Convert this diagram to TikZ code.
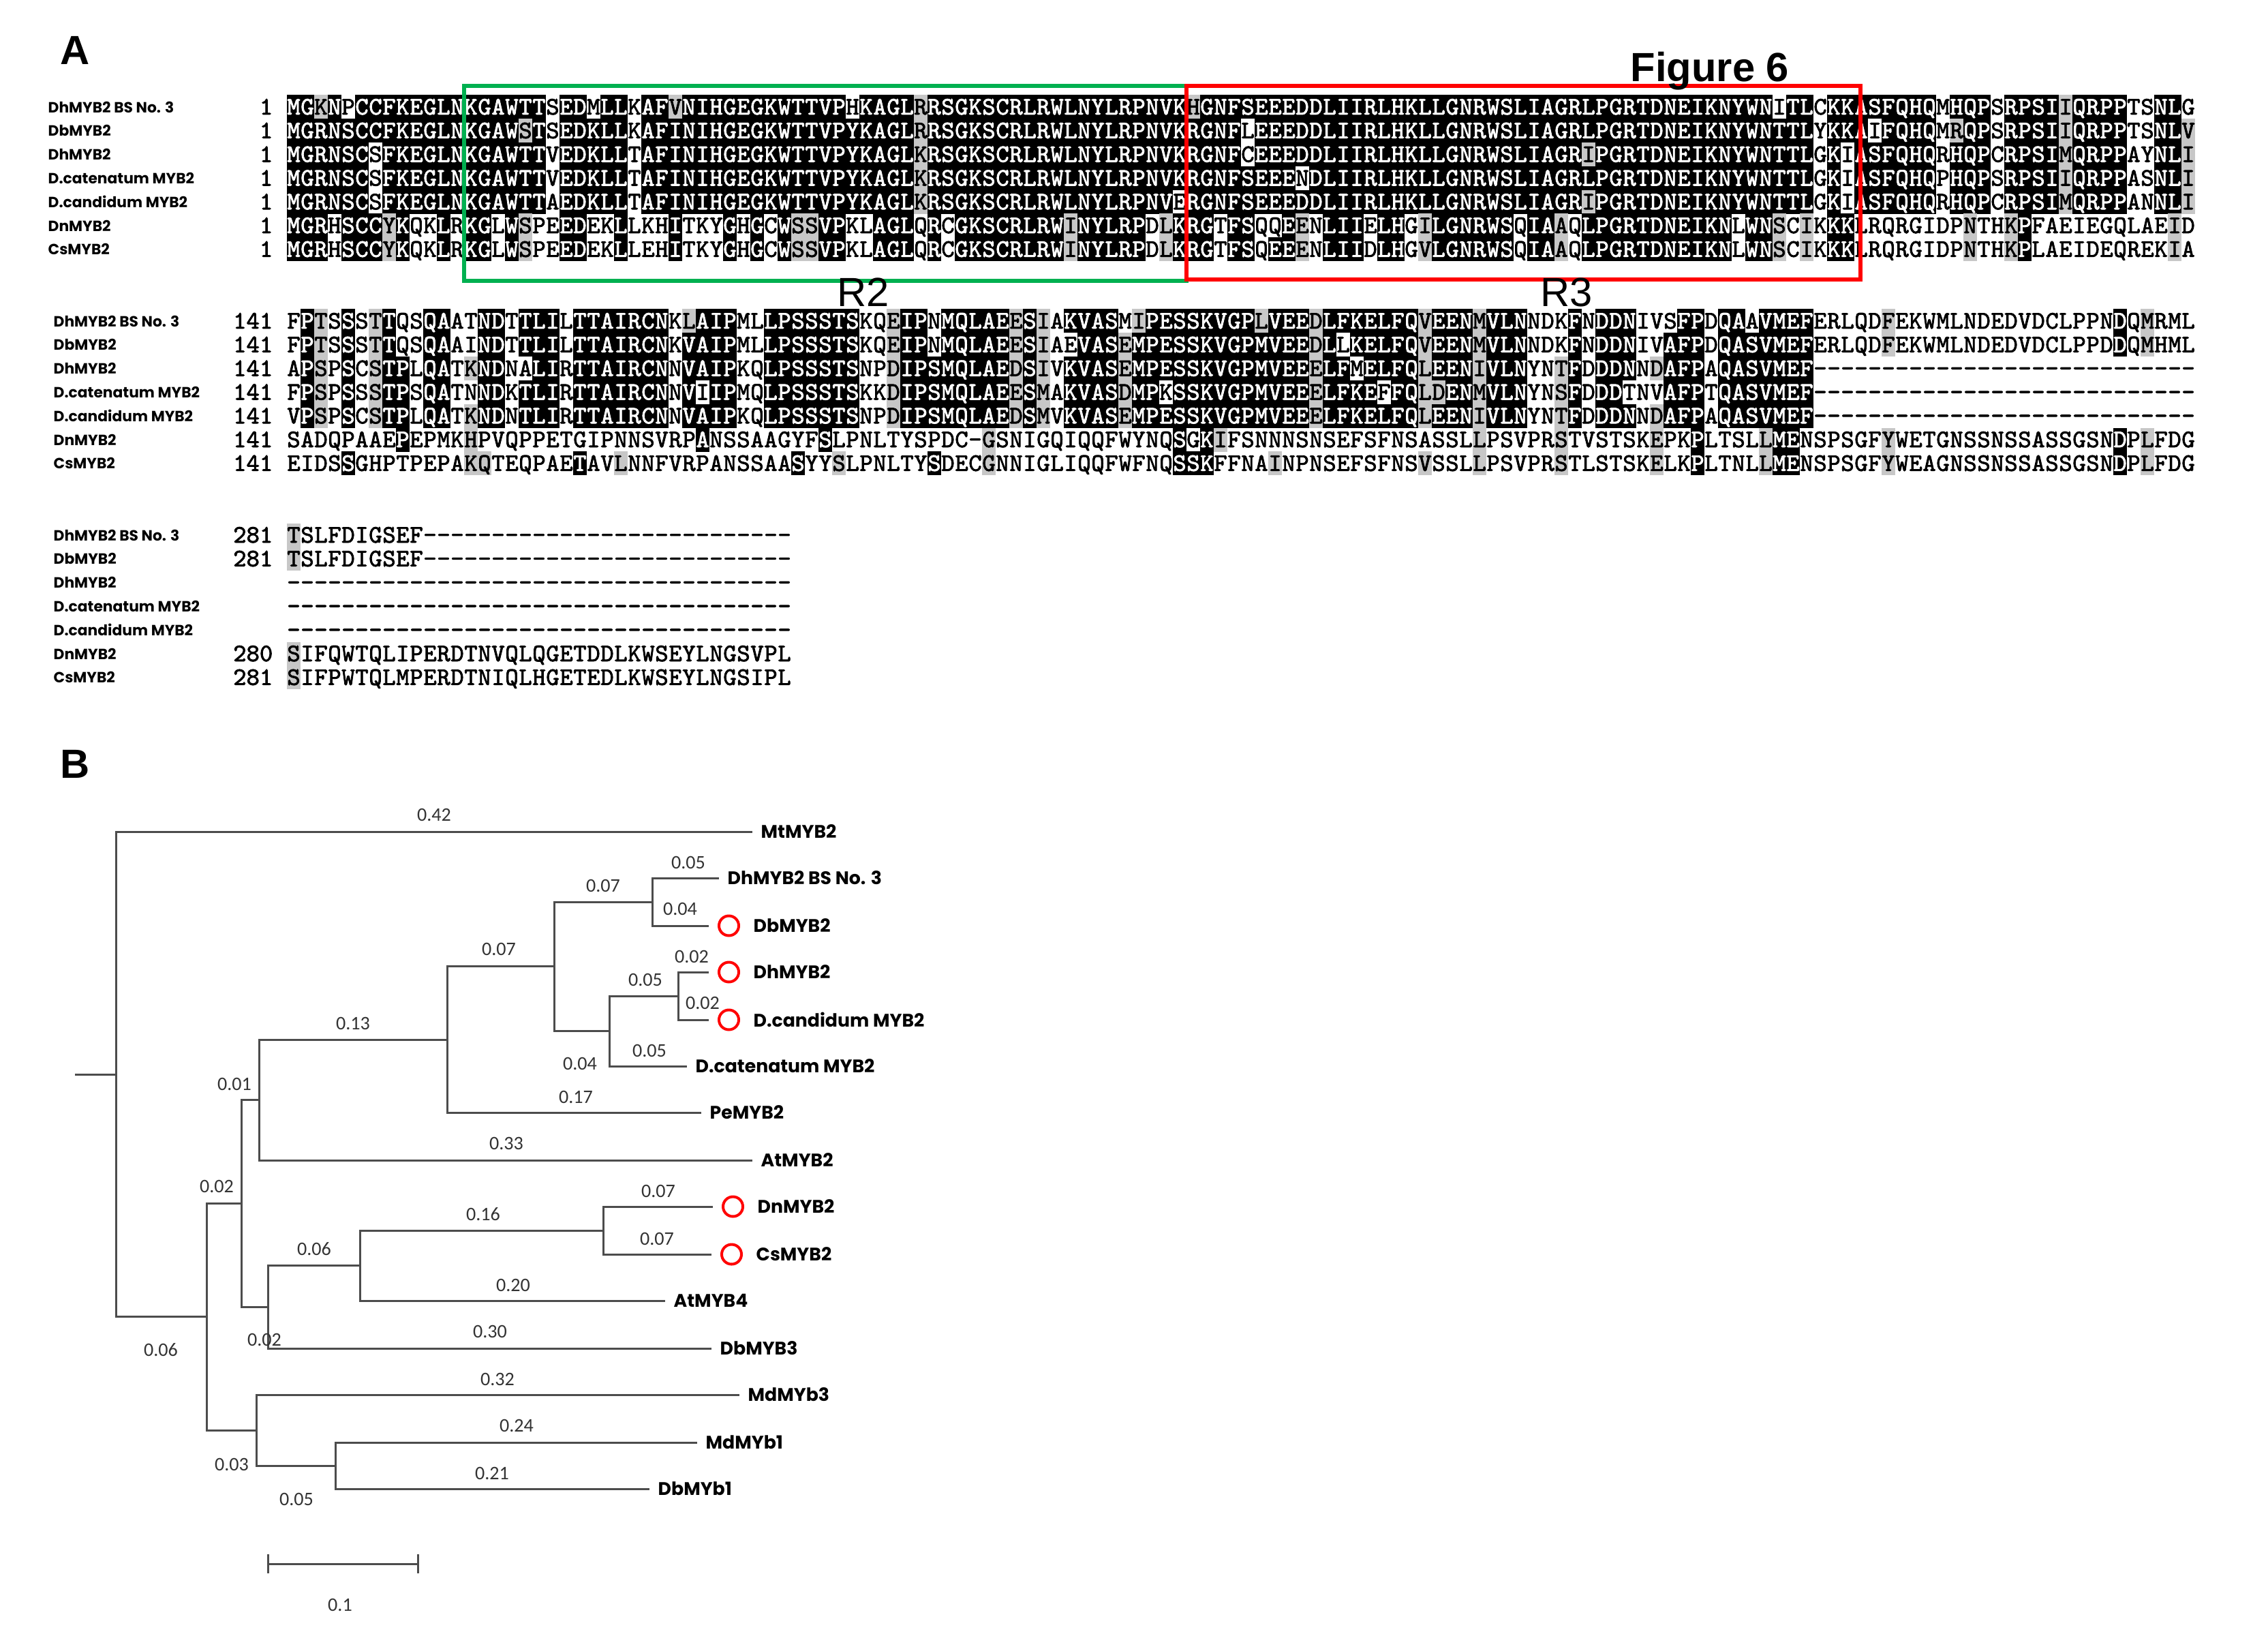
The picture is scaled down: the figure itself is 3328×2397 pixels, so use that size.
\documentclass[tikz,border=0pt]{standalone}
\usepackage{fontspec}
\setmainfont{Liberation Sans}
\newfontfamily\resfont{Latin Modern Mono}[FakeBold=2.2]
\newfontfamily\namefont{Poppins}
\newfontfamily\lenfont{Carlito}
\usetikzlibrary{positioning}

\definecolor{boxgreen}{RGB}{0,176,80}
\definecolor{boxred}{RGB}{255,0,0}

\tikzset{
  resn/.style={font=\resfont\fontsize{10.5}{10.5}\selectfont, inner sep=0pt,
    minimum width=2.03mm, minimum height=3.5mm, text height=2.2mm, text depth=0pt},
  resb/.style={resn, fill=black, text=white},
  resg/.style={resn, fill=black!22},
  resnum/.style={font=\resfont\fontsize{10.5}{10.5}\selectfont, inner sep=0pt,
    anchor=east, text height=2.2mm, text depth=0pt},
  rowname/.style={font=\namefont\bfseries\fontsize{6.2}{7}\selectfont, inner sep=0pt, anchor=west},
  leaf/.style={font=\namefont\bfseries\fontsize{7.6}{9}\selectfont, inner sep=0pt},
  blen/.style={font=\lenfont\fontsize{8}{9}\selectfont, inner sep=0pt, text=black!80},
  ring/.style={circle, draw=boxred, line width=0.4mm, minimum size=2.9mm, inner sep=0pt},
  br/.style={draw=black!70, line width=0.3mm},
  panel/.style={font=\bfseries\fontsize{17}{20}\selectfont, inner sep=0pt},
  rlab/.style={font=\fontsize{17}{20}\selectfont, inner sep=0pt},
  regionbox/.style={line width=0.6mm},
}

% one residue cell: name, x, y, shading style, letter
\newcommand\alnres[5]{\node[#4] (#1) at (#2,#3) {#5};}

% shading of an alignment block (identity black, similarity grey)
\ExplSyntaxOn
\int_new:N \l__aln_max_int
\int_new:N \l__aln_cnt_int
\int_new:N \l__aln_grp_int
\int_new:N \l__aln_len_int
\tl_new:N \l__aln_cons_tl
\tl_new:N \l__aln_style_tl
\int_step_inline:nn {7}
  {
    \str_new:c { l__aln_row_#1_str }
    \tl_new:c { l__aln_c_#1_tl }
  }
\cs_generate_variant:Nn \str_item:Nn { c }
\cs_generate_variant:Nn \str_set:Nn { c }
\prg_generate_conditional_variant:Nnn \str_if_eq:nn { vn , vv , vV } { T , F , TF }

\cs_new:Npn \__aln_group:n #1
  {
    \str_case:nnF {#1}
      {
        {F}{1} {Y}{1} {W}{1}
        {I}{2} {L}{2} {V}{2} {M}{2}
        {R}{3} {K}{3} {H}{3}
        {D}{4} {E}{4}
        {G}{5} {A}{5}
        {S}{6} {T}{6}
        {N}{7} {Q}{7}
      }
      {0}
  }
\cs_generate_variant:Nn \__aln_group:n { v , V }

\cs_new_protected:Npn \__aln_column:nnn #1#2#3
  {
    \int_step_inline:nn {7}
      { \tl_set:cx { l__aln_c_##1_tl } { \str_item:cn { l__aln_row_##1_str } {#3} } }
    \int_zero:N \l__aln_max_int
    \tl_clear:N \l__aln_cons_tl
    \int_step_inline:nn {7}
      {
        \str_if_eq:vnF { l__aln_c_##1_tl } { - }
          {
            \int_zero:N \l__aln_cnt_int
            \int_step_inline:nn {7}
              {
                \str_if_eq:vvT { l__aln_c_##1_tl } { l__aln_c_####1_tl }
                  { \int_incr:N \l__aln_cnt_int }
              }
            \int_compare:nNnT \l__aln_cnt_int > \l__aln_max_int
              {
                \int_set_eq:NN \l__aln_max_int \l__aln_cnt_int
                \tl_set_eq:Nc \l__aln_cons_tl { l__aln_c_##1_tl }
              }
          }
      }
    \int_zero:N \l__aln_grp_int
    \int_compare:nNnF \l__aln_max_int > 3
      {
        \int_step_inline:nn {7}
          {
            \int_zero:N \l__aln_cnt_int
            \int_step_inline:nn {7}
              {
                \int_compare:nNnT { \__aln_group:v { l__aln_c_####1_tl } } = {##1}
                  { \int_incr:N \l__aln_cnt_int }
              }
            \int_compare:nNnT \l__aln_cnt_int > 3
              { \int_set:Nn \l__aln_grp_int {##1} }
          }
      }
    \int_step_inline:nn {7}
      {
        \tl_set:Nn \l__aln_style_tl { resn }
        \str_if_eq:vnF { l__aln_c_##1_tl } { - }
          {
            \int_compare:nNnTF \l__aln_max_int > 3
              {
                \str_if_eq:vVTF { l__aln_c_##1_tl } \l__aln_cons_tl
                  { \tl_set:Nn \l__aln_style_tl { resb } }
                  {
                    \bool_if:nT
                      {
                        \int_compare_p:nNn { \__aln_group:v { l__aln_c_##1_tl } } > 0
                        &&
                        \int_compare_p:nNn { \__aln_group:v { l__aln_c_##1_tl } }
                          = { \__aln_group:V \l__aln_cons_tl }
                      }
                      { \tl_set:Nn \l__aln_style_tl { resg } }
                  }
              }
              {
                \bool_if:nT
                  {
                    \int_compare_p:nNn \l__aln_grp_int > 0
                    &&
                    \int_compare_p:nNn { \__aln_group:v { l__aln_c_##1_tl } } = \l__aln_grp_int
                  }
                  { \tl_set:Nn \l__aln_style_tl { resg } }
              }
          }
        \use:e
          {
            \exp_not:N \alnres
              { b#1r##1c#3 }
              { \int_eval:n { 411 + 20 * #3 } }
              { \fp_eval:n { #2 + 34.8 * ( ##1 - 1 ) } }
              { \l__aln_style_tl }
              { \tl_use:c { l__aln_c_##1_tl } }
          }
      }
  }

\NewDocumentCommand \alnblock { m m m m m m m m m }
  {
    \str_set:cn { l__aln_row_1_str } {#3}
    \str_set:cn { l__aln_row_2_str } {#4}
    \str_set:cn { l__aln_row_3_str } {#5}
    \str_set:cn { l__aln_row_4_str } {#6}
    \str_set:cn { l__aln_row_5_str } {#7}
    \str_set:cn { l__aln_row_6_str } {#8}
    \str_set:cn { l__aln_row_7_str } {#9}
    \int_set:Nn \l__aln_len_int { \str_count:n {#3} }
    \int_step_inline:nn { \l__aln_len_int }
      { \__aln_column:nnn {#1} {#2} {##1} }
  }
\ExplSyntaxOff

\begin{document}
\begin{tikzpicture}[x=0.1mm, y=-0.1mm]
\useasboundingbox (0,0) rectangle (3328,2397);

% panel A: alignment
\node[panel] (pA) at (110,74) {A};

\foreach \nm [count=\r] in {DhMYB2 BS No. 3, DbMYB2, DhMYB2, D.catenatum MYB2, D.candidum MYB2, DnMYB2, CsMYB2} {
  \node[rowname] (n1r\r) at (70,{157+34.8*(\r-1)}) {\nm};
  \node[resnum] (k1r\r) at (401,{157+34.8*(\r-1)}) {1};
  \node[rowname] (n2r\r) at (78,{471+34.8*(\r-1)}) {\nm};
  \node[resnum] (k2r\r) at (401,{471+34.8*(\r-1)}) {141};
  \node[rowname] (n3r\r) at (78,{785+34.8*(\r-1)}) {\nm};
}
\foreach \r/\num in {1/281, 2/281, 6/280, 7/281}
  \node[resnum] (k3r\r) at (401,{785+34.8*(\r-1)}) {\num};

\alnblock{1}{157}
{MGKNPCCFKEGLNKGAWTTSEDMLLKAFVNIHGEGKWTTVPHKAGLRRSGKSCRLRWLNYLRPNVKHGNFSEEEDDLIIRLHKLLGNRWSLIAGRLPGRTDNEIKNYWNITLCKKASFQHQMHQPSRPSIIQRPPTSNLG}
{MGRNSCCFKEGLNKGAWSTSEDKLLKAFINIHGEGKWTTVPYKAGLRRSGKSCRLRWLNYLRPNVKRGNFLEEEDDLIIRLHKLLGNRWSLIAGRLPGRTDNEIKNYWNTTLYKKAIFQHQMRQPSRPSIIQRPPTSNLV}
{MGRNSCSFKEGLNKGAWTTVEDKLLTAFINIHGEGKWTTVPYKAGLKRSGKSCRLRWLNYLRPNVKRGNFCEEEDDLIIRLHKLLGNRWSLIAGRIPGRTDNEIKNYWNTTLGKIASFQHQRHQPCRPSIMQRPPAYNLI}
{MGRNSCSFKEGLNKGAWTTVEDKLLTAFINIHGEGKWTTVPYKAGLKRSGKSCRLRWLNYLRPNVKRGNFSEEENDLIIRLHKLLGNRWSLIAGRLPGRTDNEIKNYWNTTLGKIASFQHQPHQPSRPSIIQRPPASNLI}
{MGRNSCSFKEGLNKGAWTTAEDKLLTAFINIHGEGKWTTVPYKAGLKRSGKSCRLRWLNYLRPNVERGNFSEEEDDLIIRLHKLLGNRWSLIAGRIPGRTDNEIKNYWNTTLGKIASFQHQRHQPCRPSIMQRPPANNLI}
{MGRHSCCYKQKLRKGLWSPEEDEKLLKHITKYGHGCWSSVPKLAGLQRCGKSCRLRWINYLRPDLKRGTFSQQEENLIIELHGILGNRWSQIAAQLPGRTDNEIKNLWNSCIKKKLRQRGIDPNTHKPFAEIEGQLAEID}
{MGRHSCCYKQKLRKGLWSPEEDEKLLEHITKYGHGCWSSVPKLAGLQRCGKSCRLRWINYLRPDLKRGTFSQEEENLIIDLHGVLGNRWSQIAAQLPGRTDNEIKNLWNSCIKKKLRQRGIDPNTHKPLAEIDEQREKIA}

\alnblock{2}{471}
{FPTSSSTTQSQAATNDTTLILTTAIRCNKLAIPMLLPSSSTSKQEIPNMQLAEESIAKVASMIPESSKVGPLVEEDLFKELFQVEENMVLNNDKFNDDNIVSFPDQAAVMEFERLQDFEKWMLNDEDVDCLPPNDQMRML}
{FPTSSSTTQSQAAINDTTLILTTAIRCNKVAIPMLLPSSSTSKQEIPNMQLAEESIAEVASEMPESSKVGPMVEEDLLKELFQVEENMVLNNDKFNDDNIVAFPDQASVMEFERLQDFEKWMLNDEDVDCLPPDDQMHML}
{APSPSCSTPLQATKNDNALIRTTAIRCNNVAIPKQLPSSSTSNPDIPSMQLAEDSIVKVASEMPESSKVGPMVEEELFMELFQLEENIVLNYNTFDDDNNDAFPAQASVMEF----------------------------}
{FPSPSSSTPSQATNNDKTLIRTTAIRCNNVIIPMQLPSSSTSKKDIPSMQLAEESMAKVASDMPKSSKVGPMVEEELFKEFFQLDENMVLNYNSFDDDTNVAFPTQASVMEF----------------------------}
{VPSPSCSTPLQATKNDNTLIRTTAIRCNNVAIPKQLPSSSTSNPDIPSMQLAEDSMVKVASEMPESSKVGPMVEEELFKELFQLEENIVLNYNTFDDDNNDAFPAQASVMEF----------------------------}
{SADQPAAEPEPMKHPVQPPETGIPNNSVRPANSSAAGYFSLPNLTYSPDC-GSNIGQIQQFWYNQSGKIFSNNNSNSEFSFNSASSLLPSVPRSTVSTSKEPKPLTSLLMENSPSGFYWETGNSSNSSASSGSNDPLFDG}
{EIDSSGHPTPEPAKQTEQPAETAVLNNFVRPANSSAASYYSLPNLTYSDECGNNIGLIQQFWFNQSSKFFNAINPNSEFSFNSVSSLLPSVPRSTLSTSKELKPLTNLLMENSPSGFYWEAGNSSNSSASSGSNDPLFDG}

\alnblock{3}{785}
{TSLFDIGSEF---------------------------}
{TSLFDIGSEF---------------------------}
{-------------------------------------}
{-------------------------------------}
{-------------------------------------}
{SIFQWTQLIPERDTNVQLQGETDDLKWSEYLNGSVPL}
{SIFPWTQLMPERDTNIQLHGETEDLKWSEYLNGSIPL}

% R2 and R3 domains
\draw[regionbox, draw=boxgreen] (681,126) rectangle (1741,412);
\draw[regionbox, draw=boxred] (1741,126) rectangle (2730,410);
\node[rlab] (r2) at (1267,429) {R2};
\node[rlab] (r3) at (2299,429) {R3};
\node[panel] (fig6) at (2509,104) {Figure 6};

% panel B: tree
\node[panel] (pB) at (110,1121) {B};

\coordinate (stub) at (110,1576);
\coordinate (root) at (170,1576);
\coordinate (nA) at (303,1931.5);
\coordinate (nB) at (354,1765);
\coordinate (nC) at (376,2098);
\coordinate (nD) at (380,1613.5);
\coordinate (nE) at (393,1917);
\coordinate (nF) at (656,1525);
\coordinate (nG) at (813,1417.75);
\coordinate (nH) at (957,1323);
\coordinate (nI) at (894,1512.5);
\coordinate (nJ) at (995,1461);
\coordinate (nK) at (528,1856.5);
\coordinate (nL) at (885,1805);
\coordinate (nM) at (492,2150);

\coordinate (mtE) at (1104,1220);
\coordinate (dh3E) at (1055,1288);
\coordinate (dbE) at (1040,1358);
\coordinate (dhE) at (1040,1426);
\coordinate (dcdE) at (1040,1496);
\coordinate (dctE) at (1008,1564);
\coordinate (peE) at (1029,1632);
\coordinate (at2E) at (1104,1702);
\coordinate (dnE) at (1046,1770);
\coordinate (csE) at (1044,1840);
\coordinate (at4E) at (976,1908);
\coordinate (db3E) at (1044,1978);
\coordinate (md3E) at (1085,2046);
\coordinate (md1E) at (1023,2116);
\coordinate (db1E) at (953,2184);

\draw[br] (stub) -- (root);
\foreach \p/\c in {root/mtE, root/nA, nA/nB, nA/nC, nB/nD, nB/nE, nD/nF, nD/at2E,
  nF/nG, nF/peE, nG/nH, nG/nI, nH/dh3E, nH/dbE, nI/nJ, nI/dctE, nJ/dhE, nJ/dcdE,
  nE/nK, nE/db3E, nK/nL, nK/at4E, nL/dnE, nL/csE, nC/md3E, nC/nM, nM/md1E, nM/db1E}
  \draw[br] (\p) |- (\c);

\node[leaf, right=1.2mm of mtE] (mt) {MtMYB2};
\node[leaf, right=1.2mm of dh3E] (dh3) {DhMYB2 BS No. 3};
\node[ring, right=1.3mm of dbE] (dbR) {};
\node[leaf, right=1.9mm of dbR] (db) {DbMYB2};
\node[ring, right=1.3mm of dhE] (dhR) {};
\node[leaf, right=1.9mm of dhR] (dh) {DhMYB2};
\node[ring, right=1.3mm of dcdE] (dcdR) {};
\node[leaf, right=1.9mm of dcdR] (dcd) {D.candidum MYB2};
\node[leaf, right=1.2mm of dctE] (dct) {D.catenatum MYB2};
\node[leaf, right=1.2mm of peE] (pe) {PeMYB2};
\node[leaf, right=1.2mm of at2E] (at2) {AtMYB2};
\node[ring, right=1.3mm of dnE] (dnR) {};
\node[leaf, right=1.9mm of dnR] (dn) {DnMYB2};
\node[ring, right=1.3mm of csE] (csR) {};
\node[leaf, right=1.9mm of csR] (cs) {CsMYB2};
\node[leaf, right=1.2mm of at4E] (at4) {AtMYB4};
\node[leaf, right=1.2mm of db3E] (db3) {DbMYB3};
\node[leaf, right=1.2mm of md3E] (md3) {MdMYb3};
\node[leaf, right=1.2mm of md1E] (md1) {MdMYb1};
\node[leaf, right=1.2mm of db1E] (db1) {DbMYb1};

% branch lengths
\foreach \x/\y/\t [count=\i] in {637/1195/0.42, 1010/1265/0.05, 885/1299/0.07, 998/1333/0.04,
  732/1392/0.07, 1015/1403/0.02, 947/1437/0.05, 1031/1471/0.02, 518/1501/0.13,
  953/1541/0.05, 851/1560/0.04, 344/1590/0.01, 845/1609/0.17, 743/1677/0.33,
  318/1740/0.02, 966/1747/0.07, 709/1781/0.16, 964/1817/0.07, 461/1832/0.06,
  753/1885/0.20, 719/1953/0.30, 388/1965/0.02, 236/1980/0.06, 730/2023/0.32,
  758/2091/0.24, 340/2148/0.03, 722/2161/0.21, 435/2199/0.05}
  \node[blen] (bl\i) at (\x,\y) {\t};

% scale bar
\coordinate (sb1) at (393,2294);
\coordinate (sb2) at (613,2294);
\draw[br] (sb1) -- (sb2);
\draw[br] (sb1) ++(0,-14) -- ++(0,28);
\draw[br] (sb2) ++(0,-14) -- ++(0,28);
\node[blen] (sbl) at (499,2354) {0.1};

\end{tikzpicture}
\end{document}
